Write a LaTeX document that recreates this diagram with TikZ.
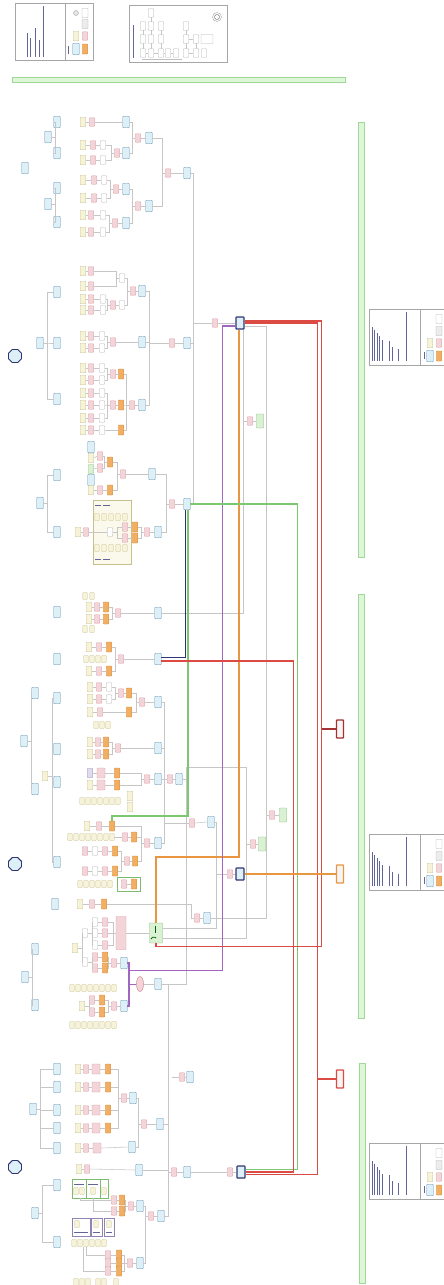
\documentclass[tikz,border=0pt]{standalone}
\usetikzlibrary{shapes.geometric}
\definecolor{cblF}{HTML}{DDEFF7}
\definecolor{cblD}{HTML}{5B8DB0}
\definecolor{cpkF}{HTML}{F3D5D9}
\definecolor{cpkD}{HTML}{D69AA3}
\definecolor{cylF}{HTML}{F6F3D9}
\definecolor{cylD}{HTML}{C7C08C}
\definecolor{cogF}{HTML}{F2AE62}
\definecolor{cogD}{HTML}{D48A35}
\definecolor{cgnF}{HTML}{DAF1D3}
\definecolor{cgnD}{HTML}{7DBB6E}
\definecolor{cnv}{HTML}{2F3572}
\definecolor{cgl}{HTML}{C6C6C6}
\definecolor{cred}{HTML}{DC4A44}
\definecolor{cdred}{HTML}{A33232}
\definecolor{cgrn}{HTML}{7CC870}
\definecolor{cpur}{HTML}{A066C0}
\definecolor{corg}{HTML}{E8963F}
\definecolor{ctxt}{HTML}{3A3E7E}
\definecolor{cbarF}{HTML}{DCF6D6}
\definecolor{cbarD}{HTML}{A2D79B}
\definecolor{cpuF}{HTML}{E2DBEE}
\definecolor{cpuD}{HTML}{8F83B3}
\tikzset{
 sNB/.style={draw, line width=0.45pt, inner sep=0pt, rounded corners=0.6pt, minimum width=5.5pt, minimum height=8.5pt},
 sBL/.style={sNB, fill=cblF, draw=cblD, minimum width=6.5pt, minimum height=11.5pt},
 sPK/.style={sNB, fill=cpkF, draw=cpkD},
 sPKW/.style={sPK, minimum width=8pt, minimum height=10pt},
 sYL/.style={sNB, fill=cylF, draw=cylD, minimum height=9.5pt},
 sYS/.style={sNB, fill=cylF, draw=cylD, minimum width=4.5pt, minimum height=7pt},
 sOG/.style={sNB, fill=cogF, draw=cogD, minimum height=10pt},
 sWT/.style={sNB, fill=white, draw=gray!60},
 sGNS/.style={sNB, fill=cgnF, draw=cgnD, minimum width=7pt, minimum height=14pt},
 sPU/.style={sNB, fill=cpuF, draw=cpuD, minimum height=9pt},
 sNV/.style={sNB, fill=cblF, draw=cnv, line width=1.2pt, minimum width=8pt, minimum height=12pt},
 sOCT/.style={regular polygon, regular polygon sides=8, draw=cnv, line width=0.9pt, fill=cblF, minimum size=14pt, inner sep=0pt},
 sELL/.style={ellipse, draw=cpkD, fill=cpkF, line width=0.6pt, minimum width=7pt, minimum height=15pt, inner sep=0pt},
 sRB/.style={sNB, fill=gray!8, line width=1.3pt, minimum width=7pt, minimum height=18pt},
 sGL/.style={draw=cgl, line width=0.55pt},
 sRED/.style={draw=cred, line width=1.4pt},
 sGRN/.style={draw=cgrn, line width=1.4pt},
 sPUR/.style={draw=cpur, line width=1.1pt},
 sORG/.style={draw=corg, line width=1.1pt},
 sNVL/.style={draw=cnv, line width=1pt},
 sBAR/.style={fill=cbarF, draw=cbarD, line width=0.6pt},
 sLEG/.style={draw=gray!70, line width=0.8pt, fill=white},
 sTXT/.style={draw=ctxt!80, line width=0.5pt},
 sFRY/.style={draw=cylD, fill=cylF!50, line width=0.5pt},
 sFRG/.style={draw=cgnD, fill=white, line width=0.6pt},
 sFRP/.style={draw=cpuD, fill=white, line width=0.6pt}
}
\newcommand{\mkB}[3]{\node[sBL] (#1) at (#2,#3) {};}
\newcommand{\mkP}[3]{\node[sPK] (#1) at (#2,#3) {};}
\newcommand{\mkY}[3]{\node[sYL] (#1) at (#2,#3) {};}
\newcommand{\mkO}[3]{\node[sOG] (#1) at (#2,#3) {};}
\newcommand{\mkW}[3]{\node[sWT] (#1) at (#2,#3) {};}
\newcommand{\chn}[2]{\draw[sGL] (#1.east) -- (#2.west);}
\newcommand{\lnk}[2]{\draw[sGL] (#1.east) -| ([xshift=-3pt]#2.west) -- (#2.west);}
\newcommand{\lnkd}[3]{\draw[sGL] (#1.east) -| ([xshift=-#3pt]#2.west) -- (#2.west);}
\newcommand{\trn}[2]{\draw[sGL] (#1.east) -- ++(4,0) |- (#2.west);}
\newcommand{\ypw}[5]{\mkY{#1y}{#3}{#2}\mkP{#1p}{#4}{#2}\mkW{#1w}{#5}{#2}\chn{#1y}{#1p}\chn{#1p}{#1w}}
\newcommand{\ypo}[5]{\mkY{#1y}{#3}{#2}\mkP{#1p}{#4}{#2}\mkO{#1o}{#5}{#2}\chn{#1y}{#1p}\chn{#1p}{#1o}}
\newcommand{\yp}[4]{\mkY{#1y}{#3}{#2}\mkP{#1p}{#4}{#2}\chn{#1y}{#1p}}
\newcommand{\srow}[3]{\foreach[count=\i] \x in {#3} {\node[sYS] (#1\i) at (\x,#2) {};}}
\newcommand{\legR}[2]{%
 \draw[sLEG] (369,#2) rectangle (447,#2+56);
 \draw[gray!70, line width=0.6pt] (420,#2) -- (420,#2+56);
 \draw[sTXT] (372,#2+18) -- (372,#2+52);
 \draw[sTXT] (374.5,#2+21) -- (374.5,#2+52);
 \draw[sTXT] (377,#2+24) -- (377,#2+52);
 \draw[sTXT] (379.5,#2+27) -- (379.5,#2+52);
 \draw[sTXT] (382,#2+31) -- (382,#2+52);
 \draw[sTXT] (389,#2+32) -- (389,#2+52);
 \draw[sTXT] (392,#2+38) -- (392,#2+52);
 \draw[sTXT] (398,#2+40) -- (398,#2+52);
 \draw[sTXT] (406,#2+3) -- (406,#2+52);
 \draw[sTXT] (424,#2+43) -- (424,#2+50);
 \node[sWT, minimum width=6pt, minimum height=9pt] (#1c) at (439,#2+10) {};
 \node[sWT, fill=gray!15, minimum width=6pt, minimum height=9pt] (#1g) at (439,#2+22) {};
 \mkY{#1y}{430}{#2+34}\mkP{#1p}{439}{#2+34}
 \mkB{#1b}{430}{#2+47}\mkO{#1o}{439}{#2+47}}

\begin{document}
\begin{tikzpicture}[x=1pt,y=-1pt]
\useasboundingbox (0,0) rectangle (444,1285);
\fill[white] (0,0) rectangle (444,1285);

% ---------------- top legends and bars
\draw[sLEG] (15,3) rectangle (93,60);
\draw[gray!70, line width=0.6pt] (65,3) -- (65,60);
\draw[sTXT] (27,33) -- (27,57);
\draw[sTXT] (30,38) -- (30,57);
\draw[sTXT] (35,28) -- (35,57);
\draw[sTXT] (39,40) -- (39,57);
\draw[sTXT] (43,6) -- (43,57);
\draw[sTXT] (68,46) -- (68,54);
\node[circle, draw=gray!70, fill=gray!20, minimum size=5pt, inner sep=0pt] (kc) at (76,13) {};
\node[sWT, minimum width=6pt, minimum height=9pt] (kw) at (85,13) {};
\node[sWT, fill=gray!15, minimum width=6pt, minimum height=9pt] (kg) at (85,24) {};
\mkY{ky}{76}{36}\mkP{kp}{85}{36}\mkB{kb}{76}{49}\mkO{ko}{85}{49}

\draw[sLEG] (129,5) rectangle (227,62);
\draw[sTXT] (133,25) -- (133,58);
\mkW{lt1}{151}{13}
\mkW{lt2}{143}{26}\mkW{lt3}{151}{26}\mkW{lt4}{161}{26}
\mkW{lt5}{143}{39}\mkW{lt6}{151}{39}\mkW{lt7}{161}{39}
\mkW{lt8}{143}{53}\mkW{lt9}{151}{53}\mkW{lt10}{161}{53}\mkW{lt11}{168}{53}\mkW{lt12}{176}{53}
\mkW{lt13}{186}{26}\mkW{lt14}{186}{39}\mkW{lt15}{186}{53}
\mkW{lt16}{196}{39}\mkW{lt17}{196}{53}
\node[sWT, minimum width=12pt, minimum height=9pt] (lt18) at (207,39) {};
\node[sWT, minimum width=5pt] (lt19) at (204,53) {};
\node[circle, draw=gray!70, minimum size=9pt, inner sep=0pt] (lt20) at (217,17) {};
\node[sOCT, minimum size=5pt, line width=0.4pt, draw=gray, fill=white] (lt21) at (217,17) {};
\draw[sGL] (lt1) -- (lt3); \draw[sGL] (lt2) -- (lt5); \draw[sGL] (lt5) -- (lt8);
\draw[sGL] (lt3) -- (lt6); \draw[sGL] (lt6) -- (lt9); \draw[sGL] (lt4) -- (lt7); \draw[sGL] (lt7) -- (lt10);
\draw[sGL] (lt13) -- (lt14); \draw[sGL] (lt14) -- (lt15); \draw[sGL] (lt16) -- (lt17);
\draw[sGL] (lt8) -- (lt9); \draw[sGL] (lt9) -- (lt10); \draw[sGL] (lt10) -- (lt11); \draw[sGL] (lt11) -- (lt12);
\draw[sGL] (lt15) -- (lt17); \draw[sGL] (lt14) -- (lt16);
\draw[gray!50, line width=1pt] (142,59) -- (182,59);

\draw[sBAR] (12,77) rectangle (345,82);
\draw[sBAR] (358,122) rectangle (364,557);
\draw[sBAR] (358,594) rectangle (364,1018);
\draw[sBAR] (359,1063) rectangle (365,1283);

\legR{ra}{309}
\legR{rb}{834}
\legR{rc}{1143}

% ---------------- subtree of the top goal
\node[sOCT] (o1) at (15,356) {};
\mkB{ta0}{25}{168}
\mkB{ta1}{48}{137}\mkB{ta1a}{57}{122}\mkB{ta1b}{57}{153}\trn{ta1}{ta1a}\trn{ta1}{ta1b}
\mkB{ta2}{48}{204}\mkB{ta2a}{57}{188}\mkB{ta2b}{57}{222}\trn{ta2}{ta2a}\trn{ta2}{ta2b}
\mkB{ta3}{40}{343}\mkB{ta3a}{57}{292}\mkB{ta3b}{57}{343}\mkB{ta3c}{57}{399}
\trn{ta3}{ta3a}\trn{ta3}{ta3b}\trn{ta3}{ta3c}
\mkB{ta4}{40}{503}\mkB{ta4a}{57}{475}\mkB{ta4b}{57}{532}\trn{ta4}{ta4a}\trn{ta4}{ta4b}

\yp{g1}{122}{83}{92}\mkB{c1}{126}{122}\chn{g1p}{c1}
\ypw{g2a}{145}{83}{93}{103}\ypw{g2b}{160}{83}{93}{103}
\mkP{g2q}{117}{153}\mkB{c2}{126}{153}\lnk{g2aw}{g2q}\lnk{g2bw}{g2q}\chn{g2q}{c2}
\mkP{d1p}{138}{138}\mkB{d1}{149}{138}\lnk{c1}{d1p}\lnk{c2}{d1p}\chn{d1p}{d1}
\ypw{g3a}{180}{83}{94}{104}\ypw{g3b}{198}{83}{94}{104}
\mkP{g3q}{116}{189}\mkB{c3}{126}{189}\lnk{g3aw}{g3q}\lnk{g3bw}{g3q}\chn{g3q}{c3}
\ypw{g4a}{215}{83}{91}{103}\ypw{g4b}{232}{83}{91}{103}
\mkP{g4q}{115}{223}\mkB{c4}{126}{223}\lnk{g4aw}{g4q}\lnk{g4bw}{g4q}\chn{g4q}{c4}
\mkP{d2p}{138}{206}\mkB{d2}{149}{206}\lnk{c3}{d2p}\lnk{c4}{d2p}\chn{d2p}{d2}
\mkP{e1p}{168}{173}\mkB{e1}{187}{173}\lnk{d1}{e1p}\lnk{d2}{e1p}\chn{e1p}{e1}

\yp{g5a}{271}{83}{91}\yp{g5b}{286}{83}{91}
\mkW{g5w1}{122}{278}\lnk{g5ap}{g5w1}\lnk{g5bp}{g5w1}
\ypw{g5c}{299}{83}{91}{103}\ypw{g5d}{310}{83}{91}{103}
\mkP{g5q}{113}{305}\mkW{g5w2}{122}{305}\lnk{g5cw}{g5q}\lnk{g5dw}{g5q}\chn{g5q}{g5w2}
\mkP{g5r}{133}{291}\mkB{c5}{142}{291}\lnk{g5w1}{g5r}\lnk{g5w2}{g5r}\chn{g5r}{c5}
\ypw{g6a}{336}{83}{91}{102}\ypw{g6b}{348}{83}{91}{102}
\mkP{g6q}{113}{342}\mkB{c6}{142}{342}\lnk{g6aw}{g6q}\lnk{g6bw}{g6q}\chn{g6q}{c6}
\ypw{g7a}{368}{83}{91}{102}\ypw{g7b}{380}{83}{91}{102}
\mkP{g7qa}{113}{374}\mkO{g7oa}{121}{374}\lnk{g7aw}{g7qa}\lnk{g7bw}{g7qa}\chn{g7qa}{g7oa}
\ypw{g7c}{393}{83}{91}{102}\ypw{g7d}{405}{83}{91}{102}\ypw{g7e}{418}{83}{91}{102}
\mkP{g7qb}{113}{405}\mkO{g7ob}{121}{405}\lnk{g7cw}{g7qb}\lnk{g7dw}{g7qb}\lnk{g7ew}{g7qb}\chn{g7qb}{g7ob}
\ypw{g7f}{430}{83}{91}{102}\mkO{g7oc}{121}{430}\chn{g7fw}{g7oc}
\mkP{g7r}{132}{405}\mkB{c7}{142}{405}\lnk{g7oa}{g7r}\lnk{g7ob}{g7r}\lnk{g7oc}{g7r}\chn{g7r}{c7}
\mkP{e2p}{172}{343}\mkB{e2}{187}{343}\lnkd{c5}{e2p}{20}\lnkd{c6}{e2p}{20}\lnkd{c7}{e2p}{20}\chn{e2p}{e2}

\mkB{g8s1}{91}{447}\mkY{g8s2}{91}{458}\node[sGNS, minimum height=9pt, minimum width=5pt] (g8s3) at (91,469) {};\mkB{g8s4}{91}{480}
\mkP{g8pa}{100}{456}\mkP{g8pb}{100}{468}\mkO{g8oa}{110}{462}
\chn{g8s2}{g8pa}\chn{g8s3}{g8pb}\lnk{g8pa}{g8oa}\lnk{g8pb}{g8oa}
\ypo{g8c}{490}{91}{100}{110}
\mkP{g8q}{123}{474}\mkB{c8}{152}{474}\lnk{g8oa}{g8q}\lnk{g8co}{g8q}\chn{g8q}{c8}
\draw[sFRY] (93,500) rectangle (131,564);
\srow{g9t}{517}{97,104,111,118,125}
\srow{g9b}{548}{97,104,111,118,125}
\draw[sTXT, line width=0.4pt] (95,505) -- (101,505); \draw[sTXT, line width=0.4pt] (103,505) -- (110,505);
\draw[sTXT, line width=0.4pt] (95,559) -- (101,559); \draw[sTXT, line width=0.4pt] (103,559) -- (110,559);
\yp{g9}{532}{78}{86}\mkW{g9c}{110}{532}\chn{g9p}{g9c}
\mkP{g9pa}{125}{527}\mkP{g9pb}{125}{538}\trn{g9c}{g9pa}\trn{g9c}{g9pb}
\mkO{g9oa}{135}{527}\mkO{g9ob}{135}{538}\chn{g9pa}{g9oa}\chn{g9pb}{g9ob}
\mkP{g9q}{147}{532}\mkB{c9}{158}{532}\lnk{g9oa}{g9q}\lnk{g9ob}{g9q}\chn{g9q}{c9}
\mkP{e3p}{172}{504}\mkB{e3}{187}{504}\lnk{c8}{e3p}\lnk{c9}{e3p}\chn{e3p}{e3}
\mkP{tp}{215}{323}\node[sNV] (T) at (240,323) {};
\lnkd{e1}{tp}{19}\lnkd{e2}{tp}{19}\lnkd{e3}{tp}{19}\chn{tp}{T}

% ---------------- subtree of the middle goal
\node[sOCT] (o2) at (15,864) {};
\mkB{ma0}{57}{612}\mkB{ma1}{57}{659}
\mkB{mb}{24}{741}\mkB{mb1}{35}{693}\mkB{mb2}{35}{789}\trn{mb}{mb1}\trn{mb}{mb2}
\mkY{mc}{45}{776}\mkB{mc1}{57}{698}\mkB{mc2}{57}{749}\mkB{mc3}{57}{782}\mkB{mc4}{57}{862}
\trn{mc}{mc1}\trn{mc}{mc2}\trn{mc}{mc3}\trn{mc}{mc4}
\mkB{md0}{55}{904}
\mkB{me}{25}{977}\mkB{me1}{35}{949}\mkB{me2}{35}{1005}\trn{me}{me1}\trn{me}{me2}

\srow{h1s}{596}{85,92}\srow{h1t}{629}{85,92}
\ypo{h1a}{607}{89}{97}{106}\ypo{h1b}{619}{89}{97}{106}
\mkP{h1q}{118}{613}\mkB{f1}{158}{613}\lnk{h1ao}{h1q}\lnk{h1bo}{h1q}\chn{h1q}{f1}
\ypo{h2a}{647}{89}{99}{109}\srow{h2s}{659}{86,92,98,104}\ypo{h2b}{671}{89}{99}{109}
\mkP{h2q}{121}{659}\mkB{f2}{158}{659}\lnk{h2ao}{h2q}\lnk{h2bo}{h2q}\chn{h2q}{f2}
\ypw{h3a}{687}{90}{99}{109}\ypw{h3b}{699}{90}{99}{109}
\mkP{h3q}{121}{693}\mkO{h3o}{129}{693}\lnk{h3aw}{h3q}\lnk{h3bw}{h3q}\chn{h3q}{h3o}
\yp{h3c}{712}{90}{100}\mkO{h3o2}{129}{712}\chn{h3cp}{h3o2}
\srow{h3s}{725}{96,102,108}
\mkP{h3r}{142}{702}\mkB{f3}{158}{702}\lnk{h3o}{h3r}\lnk{h3o2}{h3r}\chn{h3r}{f3}
\ypo{h4a}{742}{90}{98}{106}\ypo{h4b}{754}{90}{98}{106}
\mkP{h4q}{118}{748}\mkB{f4}{158}{748}\lnk{h4ao}{h4q}\lnk{h4bo}{h4q}\chn{h4q}{f4}
\node[sPU] (h5ay) at (90,773) {};\node[sPKW] (h5ap) at (101,773) {};\mkO{h5ao}{117}{773}\chn{h5ay}{h5ap}\chn{h5ap}{h5ao}
\mkY{h5by}{90}{785}\node[sPKW] (h5bp) at (101,785) {};\mkO{h5bo}{117}{785}\chn{h5by}{h5bp}\chn{h5bp}{h5bo}
\mkP{h5q}{147}{779}\mkB{f5}{158}{779}\lnk{h5ao}{h5q}\lnk{h5bo}{h5q}\chn{h5q}{f5}
\mkP{f5p}{170}{779}\mkB{f5b}{179}{779}\chn{f5}{f5p}\chn{f5p}{f5b}
\srow{h6s}{801}{82,88,94,100,106,112,118}
\mkY{h6t1}{130}{796}\mkY{h6t2}{130}{807}
\ypo{h7a}{826}{87}{99}{112}
\srow{h7s}{837}{70,76,82,88,94,100,106,112}
\mkP{h7p}{125}{837}\mkO{h7o}{134}{837}\chn{h7s8}{h7p}\chn{h7p}{h7o}
\mkP{h7q}{147}{843}\mkB{f6}{158}{843}\lnk{h7ao}{h7q}\lnk{h7o}{h7q}\chn{h7q}{f6}
\mkP{h8a1}{85}{851}\mkW{h8a2}{95}{851}\mkP{h8a3}{105}{851}\mkO{h8a4}{115}{851}
\chn{h8a1}{h8a2}\chn{h8a2}{h8a3}\chn{h8a3}{h8a4}
\mkP{h8b1}{85}{871}\mkW{h8b2}{95}{871}\mkP{h8b3}{105}{871}\mkO{h8b4}{115}{871}
\chn{h8b1}{h8b2}\chn{h8b2}{h8b3}\chn{h8b3}{h8b4}
\mkP{h8m}{127}{861}\mkO{h8mo}{135}{861}\lnk{h8a4}{h8m}\lnk{h8b4}{h8m}\chn{h8m}{h8mo}
\lnk{h8mo}{h7q}
\srow{h8s}{884}{80,86,92,98,104,110}
\draw[sFRG] (117,877) rectangle (140,891);
\mkP{h8gp}{124}{884}\mkO{h8go}{134}{884}\chn{h8gp}{h8go}
\ypo{h9}{904}{80}{92}{104}
\mkP{q2p}{197}{918}\mkB{q2}{207}{918}\chn{q2p}{q2}
\draw[sGL] (h9o.east) -| (191,918) -- (q2p.west);
\mkY{h10y}{75}{948}\mkW{h10w1}{85}{933}\mkW{h10w2}{85}{962}\trn{h10y}{h10w1}\trn{h10y}{h10w2}
\mkW{h10a}{95}{922}\mkP{h10ap}{105}{922}\chn{h10a}{h10ap}
\mkW{h10b}{95}{933}\mkP{h10bp}{105}{933}\chn{h10b}{h10bp}
\mkW{h10c}{95}{945}\mkP{h10cp}{105}{945}\chn{h10c}{h10cp}
\trn{h10w1}{h10a}\trn{h10w1}{h10b}\trn{h10w1}{h10c}
\node[sPK, minimum width=10pt, minimum height=33pt] (h10big) at (121,933) {};
\lnk{h10ap}{h10big}\lnk{h10bp}{h10big}\lnk{h10cp}{h10big}
\node[sGNS, minimum width=13pt, minimum height=20pt] (G) at (156,933) {};
\draw[green!40!black, line width=0.8pt] (151,939) arc (200:320:3);
\draw[green!40!black, line width=0.6pt] (155,926) -- (155,933);
\chn{h10big}{G}
\mkP{h11a}{95}{957}\mkO{h11ao}{105}{957}\mkP{h11b}{95}{968}\mkO{h11bo}{105}{968}
\chn{h11a}{h11ao}\chn{h11b}{h11bo}\trn{h10w2}{h11a}\trn{h10w2}{h11b}
\mkP{h11q}{114}{963}\mkB{f7}{124}{963}\lnk{h11ao}{h11q}\lnk{h11bo}{h11q}\chn{h11q}{f7}
\srow{h12s}{988}{72,78,84,90,96,102,108,114}
\srow{h12t}{1025}{72,78,84,90,96,102,108,114}
\mkY{h12y}{82}{1006}
\mkP{h12a}{92}{1000}\mkO{h12ao}{102}{1000}\mkP{h12b}{92}{1012}\mkO{h12bo}{102}{1012}
\chn{h12a}{h12ao}\chn{h12b}{h12bo}\trn{h12y}{h12a}\trn{h12y}{h12b}
\mkP{h12q}{114}{1006}\mkB{f8}{124}{1006}\lnk{h12ao}{h12q}\lnk{h12bo}{h12q}\chn{h12q}{f8}
\node[sELL] (el) at (140,984) {};\mkB{f9}{158}{984}\chn{el}{f9}

\mkP{qp1}{192}{823}\mkB{q1}{211}{822}
\lnkd{f3}{qp1}{25}\lnkd{f4}{qp1}{25}\lnkd{f6}{qp1}{25}\chn{qp1}{q1}
\mkP{mp}{230}{874}\node[sNV] (M) at (240,874) {};\chn{mp}{M}
\draw[sGL] (q1.east) -| (216,874) -- (mp.west);
\draw[sGL] ([yshift=5pt]G.east) -| (216,874);
\coordinate (gx) at (162.5,938);
\draw[sGL] (f9.east) -| (186,767) -| (246,938) -- (gx);
\draw[sGL] (f5b.east) -- (186,779);
\mkP{sp1}{253}{844}\node[sGNS] (sg1) at (262,844) {};
\draw[sGL] (246,844) -- (sp1.west);\chn{sp1}{sg1}

% ---------------- subtree of the bottom goal
\node[sOCT] (o3) at (15,1167) {};
\mkB{ba}{33}{1109}
\mkB{ba1}{57}{1069}\mkB{ba2}{57}{1087}\mkB{ba3}{57}{1110}\mkB{ba4}{57}{1128}\mkB{ba5}{57}{1148}
\trn{ba}{ba1}\trn{ba}{ba2}\trn{ba}{ba3}\trn{ba}{ba4}\trn{ba}{ba5}
\mkB{bb}{35}{1213}\mkB{bb1}{57}{1185}\mkB{bb2}{57}{1242}\trn{bb}{bb1}\trn{bb}{bb2}
\foreach \r/\yy in {1/1069,2/1087,3/1110,4/1128}{
 \mkY{k\r y}{78}{\yy}\mkP{k\r p}{86}{\yy}\node[sPKW] (k\r w) at (96,\yy) {};\mkO{k\r o}{108}{\yy}
 \chn{k\r y}{k\r p}\chn{k\r p}{k\r w}\chn{k\r w}{k\r o}}
\mkP{kq}{124}{1098}\mkB{l1}{133}{1098}
\lnk{k1o}{kq}\lnk{k2o}{kq}\lnk{k3o}{kq}\lnk{k4o}{kq}\chn{kq}{l1}
\mkY{k5y}{78}{1148}\mkP{k5p}{86}{1148}\node[sPKW] (k5w) at (97,1148) {};
\chn{k5y}{k5p}\chn{k5p}{k5w}\mkB{l2}{132}{1147}\chn{k5w}{l2}
\mkP{lq}{144}{1124}\mkB{l3}{160}{1124}\lnk{l1}{lq}\lnk{l2}{lq}\chn{lq}{l3}
\yp{k6}{1169}{79}{87}\mkB{l4}{139}{1170}\chn{k6p}{l4}
\draw[sFRG] (72,1179) rectangle (86,1198);\draw[sFRG] (86,1179) rectangle (100,1198);\draw[sFRG] (100,1179) rectangle (108,1198);
\srow{k7i}{1191}{76,82,93,104}
\draw[sTXT, line width=0.4pt] (74,1184) -- (84,1184);\draw[sTXT, line width=0.4pt] (88,1184) -- (98,1184);
\mkP{k7a}{114}{1200}\mkO{k7ao}{122}{1200}\mkP{k7b}{114}{1211}\mkO{k7bo}{122}{1211}
\chn{k7a}{k7ao}\chn{k7b}{k7bo}
\draw[sGL] (80,1198) |- (k7a.west);\draw[sGL] (93,1198) |- (k7b.west);
\mkP{k7q}{131}{1206}\mkB{l5}{140}{1206}\lnk{k7ao}{k7q}\lnk{k7bo}{k7q}\chn{k7q}{l5}
\draw[sFRP] (72,1218) rectangle (90,1236);\draw[sFRP] (91,1218) rectangle (102,1236);\draw[sFRP] (104,1218) rectangle (114,1236);
\srow{k8i}{1224}{77,96,109}
\draw[sTXT, line width=0.4pt] (74,1232) -- (88,1232);\draw[sTXT, line width=0.4pt] (93,1232) -- (100,1232);\draw[sTXT, line width=0.4pt] (106,1232) -- (112,1232);
\srow{k8s}{1243}{74,80,86,92,98,104}
\mkP{k8a}{108}{1255}\mkO{k8ao}{119}{1255}\mkP{k8b}{108}{1263}\mkO{k8bo}{119}{1263}\mkP{k8c}{108}{1271}\mkO{k8co}{119}{1271}
\chn{k8a}{k8ao}\chn{k8b}{k8bo}\chn{k8c}{k8co}
\draw[sGL] (k8s3.south) |- (k8a.west);\draw[sGL] (83,1247) |- (k8c.west);
\mkP{k8q}{130}{1263}\mkB{l6}{140}{1263}\lnk{k8ao}{k8q}\lnk{k8bo}{k8q}\lnk{k8co}{k8q}\chn{k8q}{l6}
\srow{k8t}{1282}{76,82,88,98,104,116}
\mkP{lr}{151}{1216}\mkB{l7}{161}{1216}\lnk{l5}{lr}\lnk{l6}{lr}\chn{lr}{l7}
\mkP{bp1}{174}{1172}\mkB{bq}{187}{1172}\lnk{l3}{bp1}\lnk{l4}{bp1}\lnk{l7}{bp1}\chn{bp1}{bq}
\draw[sGL] (f9.east) -| ([xshift=-3pt]bp1.west);
\mkP{bxp}{182}{1077}\mkB{bx}{190}{1077}\draw[sGL] (171.5,1077) -- (bxp.west);\chn{bxp}{bx}
\mkP{bp2}{230}{1172}\node[sNV] (B) at (241,1172) {};\chn{bq}{bp2}\chn{bp2}{B}

% ---------------- connectors from the top goal
\draw[sGL] ([xshift=3pt]T.south) |- (f1.east);
\mkP{tp2}{250}{421}\node[sGNS] (tg1) at (260,421) {};
\draw[sGL] (243,421) -- (tp2.west);\chn{tp2}{tg1}
\draw[sGL] ([yshift=-3.5pt]T.east) -| (266,918) -- (q2.east);
\mkP{sp2}{272}{815}\node[sGNS] (sg2) at (283,815) {};
\draw[sGL] (266,815) -- (sp2.west);\chn{sp2}{sg2}

\coordinate (oc) at (156,857);
\draw[sORG] ([xshift=-1pt]T.south) |- (oc) -- (G.north);
\draw[sPUR] ([yshift=-3pt]T.west) -| (222.5,970.5) -- (129,970.5);
\draw[sPUR] (f7.east) -| (129,1006) -- (f8.east);
\draw[sPUR, line width=0.5pt] (129,984) -- (el.west);
\draw[sNVL] ([xshift=-2pt]e3.south) |- ([yshift=1.5pt]f2.east);
\draw[sGRN] (e3.east) -| (297.5,1169.5) -- ([yshift=2.5pt]B.east);
\draw[sGRN] ([xshift=1pt]e3.south) |- (h7ao.north |- 0,816) -- (h7ao.north);
\draw[sRED] ([yshift=-2pt]f2.east) -| (293.5,1172) -- (B.east);
\draw[sRED] ([yshift=2pt]T.east) -| (321.5,946.5) -| (G.south);
\draw[sRED] (T.east) -| (317.5,1174.5) -- ([yshift=-2.5pt]B.east);
\node[sRB, draw=cdred] (rx1) at (340,729) {};
\draw[sRED, draw=cdred] (321.5,729) -- (rx1.west);
\node[sRB, draw=cred] (rx2) at (340,1079) {};
\draw[sRED] (317.5,1079) -- (rx2.west);
\node[sRB, draw=corg] (ox) at (340,874) {};
\draw[sORG] (M.east) -- (ox.west);
\end{tikzpicture}
\end{document}
